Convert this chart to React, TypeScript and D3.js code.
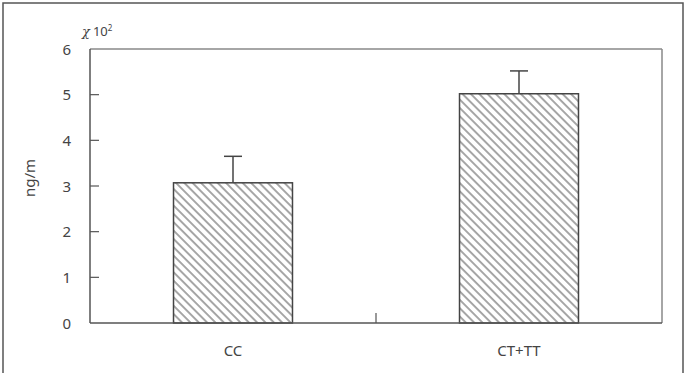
import React from "react";
import * as d3 from "d3";

const categories = ["CC", "CT+TT"];
const values = [3.07, 5.02];
const errors = [0.58, 0.5];
const yTicks = [0, 1, 2, 3, 4, 5, 6];

const W = 686;
const H = 373;
const M = { left: 90, right: 24, top: 49, bottom: 50 };

export default function App() {
  const x = d3
    .scaleBand<string>()
    .domain(categories)
    .range([M.left, W - M.right])
    .paddingInner(0.584)
    .paddingOuter(0.292);
  const y = d3.scaleLinear().domain([0, 6]).range([H - M.bottom, M.top]);
  const x0 = M.left;
  const x1 = W - M.right;
  const y0 = y(0);
  const y6 = y(6);
  const centers = categories.map((c) => x(c)! + x.bandwidth() / 2);
  const midTick = (centers[0] + centers[1]) / 2;
  const font = "'Noto Sans', 'DejaVu Sans', sans-serif";
  const axisColor = "#555";
  return (
    <svg width={W} height={H} style={{ position: "absolute", left: 0, top: 0, background: "#fff" }}>
      <defs>
        <pattern id="hatch" patternUnits="userSpaceOnUse" width={5.9} height={5.9} patternTransform="rotate(-45)">
          <line x1={1} y1={0} x2={1} y2={5.9} stroke="#777" strokeWidth={1.3} />
        </pattern>
      </defs>
      <rect x={3} y={3} width={680} height={380} fill="none" stroke="#555" strokeWidth={1.5} />
      <line x1={x0} y1={y6} x2={x1} y2={y6} stroke="#888" strokeWidth={1.5} />
      <line x1={x1} y1={y6} x2={x1} y2={y0} stroke="#888" strokeWidth={1.5} />
      {categories.map((c, i) => {
        const bx = x(c)!;
        const bw = x.bandwidth();
        const cx = centers[i];
        return (
          <g key={c}>
            <rect x={bx} y={y(values[i])} width={bw} height={y0 - y(values[i])} fill="url(#hatch)" stroke="#444" strokeWidth={1.5} />
            <line x1={cx} y1={y(values[i])} x2={cx} y2={y(values[i] + errors[i])} stroke="#444" strokeWidth={1.5} />
            <line x1={cx - 9} y1={y(values[i] + errors[i])} x2={cx + 9} y2={y(values[i] + errors[i])} stroke="#444" strokeWidth={1.5} />
            <text x={cx} y={y0 + 33} textAnchor="middle" fontFamily={font} fontSize={15} fill="#444">
              {c}
            </text>
          </g>
        );
      })}
      <line x1={x0} y1={y6} x2={x0} y2={y0} stroke={axisColor} strokeWidth={1.5} />
      <line x1={x0} y1={y0} x2={x1} y2={y0} stroke={axisColor} strokeWidth={1.5} />
      {yTicks.map((t) => (
        <g key={t}>
          {t > 0 && t < 6 && <line x1={x0} y1={y(t)} x2={x0 + 9} y2={y(t)} stroke={axisColor} strokeWidth={1.2} />}
          <text x={71} y={y(t) + 5.5} textAnchor="end" fontFamily={font} fontSize={15} fill="#444">
            {t}
          </text>
        </g>
      ))}
      <line x1={midTick} y1={y0} x2={midTick} y2={y0 - 10} stroke={axisColor} strokeWidth={1.2} />
      <text x={31} y={178} textAnchor="middle" fontFamily={font} fontSize={15} fill="#444" transform="rotate(-90 31 178)" dominantBaseline="middle">
        ng/m
      </text>
      <text x={82} y={36} fontFamily={font} fontSize={13} fill="#444">
        <tspan fontStyle="italic" fontFamily="'DejaVu Serif', serif">χ</tspan>
        <tspan dx={3}>10</tspan>
        <tspan dy={-5} fontSize={8}>2</tspan>
      </text>
    </svg>
  );
}
